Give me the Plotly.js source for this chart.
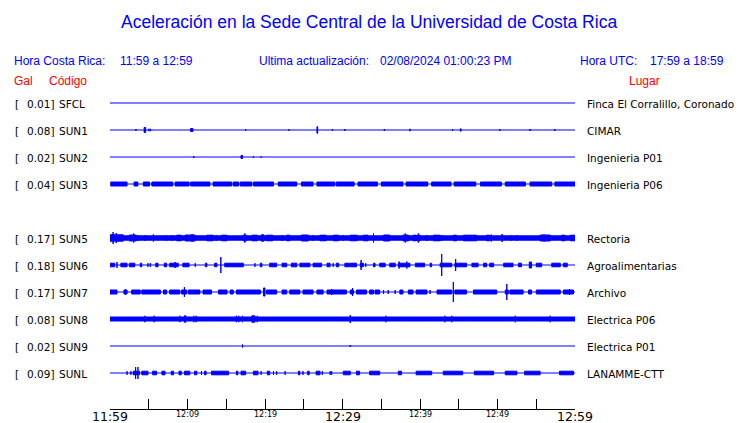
<!DOCTYPE html>
<html><head><meta charset="utf-8">
<script src="https://cdn.plot.ly/plotly-3.0.1.min.js"></script>
<style>body{margin:0;background:#fff}#chart{width:740px;height:423px}</style>
</head><body><div id="chart"></div>
<script>
// ---- data ----
const codes  = ['SFCL','SUN1','SUN2','SUN3','SUN5','SUN6','SUN7','SUN8','SUN9','SUNL'];
const gal    = ['0.01','0.08','0.02','0.04','0.17','0.18','0.17','0.08','0.02','0.09'];
const places = ['Finca El Corralillo, Coronado','CIMAR','Ingenieria P01','Ingenieria P06','Rectoria',
                'Agroalimentarias','Archivo','Electrica P06','Electrica P01','LANAMME-CTT'];
const rowSlot = [0,1,2,3,5,6,7,8,9,10];           // SUN4 has no trace (empty row)
const tickMinutes = [0,5,10,15,20,25,30,35,40,45,50,55,60];
const tickLabels  = ['11:59','','12:09','','12:19','','12:29','','12:39','','12:49','','12:59'];
const tickMajor   = [1,0,0,0,0,0,1,0,0,0,0,0,1];

// bursts: [start minute, end minute, half amplitude]
const burstsSFCL = [];
const burstsSUN1 = [[3.35,3.35,1],[4.4,4.6,2.5],[5.0,5.0,1.2],[5.2,5.2,1.2],[10.4,10.7,1.5],[17.5,17.5,1],
  [23.1,23.1,0.8],[26.7,26.8,3.3],[28.7,28.7,1],[30.3,30.3,1],[35.4,35.4,1],[38.7,38.7,1.2],[44.2,44.2,1],
  [45.2,45.3,1.2],[50.3,50.3,1],[54.2,54.2,1],[57.4,57.4,1]];
const burstsSUN2 = [[10.8,10.8,1],[16.9,17.1,1.5],[18.5,18.5,0.7],[19.5,19.5,0.7]];
const burstsSUN3 = [[0.1,2.2,2],[3.1,3.6,2],[4.3,5.1,2],[5.4,8.1,2],[8.4,10.2,2],[10.4,12.9,2],[13.3,15.7,2],[15.9,16.6,2],
  [16.8,18.3,2],[18.5,21.1,2],[21.7,24.1,2],[24.7,26.2,2],[26.7,29,2],[29.2,31.5,2],[32,34.5,2],[35,37.8,2],
  [38.2,41,2],[41.5,44,2],[44.4,47.2,2],[47.8,50.5,2],[51,53.6,2],[54.2,57,2],[57.4,60,2]];
const burstsSUN5 = [[0,60,2.2],[0,1.7,3.2],[0.4,0.4,6],[0.8,0.8,5],[2.5,3.4,3],[3.05,3.05,4.5],[3.7,3.7,2.8],[4.5,4.5,2.8],
  [5.6,5.6,3.5],[7.3,7.3,2.8],[8.0,8.0,2.8],[8.6,9.2,2.8],[9.7,11,3],[10.6,10.6,4],[12.5,13.3,2.8],[13.7,13.7,3],
  [14.4,15.1,2.8],[17.2,17.6,3],[17.4,17.4,4.5],[18.3,19,2.8],[19.5,19.9,3],[19.7,19.7,3.8],[20.2,21,2.8],[22.2,22.2,3],
  [22.8,23.2,2.8],[24.7,25.6,3],[26.2,26.2,2.8],[27.1,27.9,2.8],[28.8,29.5,2.8],[30.1,30.1,2.8],[31,31.9,2.8],
  [32.7,33.3,2.8],[34.0,34.0,4.5],[35.3,36.1,3],[37.8,38.5,3],[38.1,38.1,4.5],[39.1,39.5,2.8],[39.6,40,3],
  [39.8,39.8,4.5],[40.9,40.9,3],[41.7,42.6,2.8],[42.8,42.8,2.8],[44.3,44.7,2.8],[45.6,47.3,2.8],[46,46,2.8],
  [48.6,49,2.8],[49.2,49.2,3.5],[50.6,50.6,4],[51.8,51.8,2.8],[52.5,52.5,2.8],[55.5,56.8,3],[56,56,3.5],
  [58.3,58.7,2.8],[59.4,60,2.8]];
const burstsSUN6 = [[0,0.6,1.8],[0.9,0.9,3],[1.4,2.2,1.8],[2.5,3.2,1.8],[3.9,4.1,1.8],[4.9,4.9,1.8],[5.2,5.2,1.8],
  [5.9,6.2,1.8],[7,7.3,1.8],[7.7,8.8,1.8],[8.4,8.4,3],[9.4,10.2,1.8],[11,11,1.8],[12.3,12.5,1.8],[13.5,13.8,1.8],
  [14.3,14.3,8],[14.8,17.2,1.8],[18.7,18.7,1.8],[19.4,19.6,1.8],[20.6,21.5,1.8],[22.2,22.8,1.8],[23.4,24.1,1.8],
  [24.5,25.8,1.8],[26.2,27.3,1.8],[28,28.4,1.8],[28.8,28.8,1.8],[29.2,29.5,1.8],[30.3,30.9,1.8],[31,31.8,1.8],
  [32.3,32.7,1.8],[32.4,32.4,5],[33,33,1.8],[34,34.2,1.8],[34.8,35.5,1.8],[36.1,36.8,1.8],[37.2,38.7,1.8],
  [37.3,37.3,3.5],[38.3,38.3,3.5],[39.4,40.6,1.8],[41.3,41.5,1.8],[42.6,44.1,1.8],[42.8,42.8,11],[44.5,46,1.8],
  [44.6,44.6,6],[46.7,47.5,1.8],[48.2,48.6,1.8],[49,49.5,1.8],[50.8,52,1.8],[52.7,53.1,1.8],[54.1,54.4,3],
  [55,55.7,1.8],[57,58.1,1.8],[58.5,59,1.8]];
const burstsSUN7 = [[0,0.9,2],[1.8,2.2,2],[2,2,3],[2.8,3.9,2],[4.1,6.5,2],[6.9,7.3,2],[7.7,9,2],[9.2,9.9,2],[9.6,9.6,5],
  [10.1,11.6,2],[12,13.1,2],[14,15.1,2],[15.5,15.9,2],[16.3,19.4,2],[19.8,20,4],[20.2,21.5,2],[22.2,22.8,2],
  [23.2,24.5,2],[24.9,26.2,2],[26.7,27.5,2],[28,30.5,2],[28.6,28.6,3],[31,31.4,2],[31.3,31.3,4],[31.8,33.1,2],
  [33.5,34,2],[34.2,34.8,2],[35.3,35.3,2],[35.9,35.9,2],[36.8,36.8,2],[37.4,37.8,2],[38.5,39.1,2],[39.5,40.9,2],
  [41.3,41.3,2],[42.2,44.1,2],[44.3,44.3,10],[44.5,46,2],[46.9,49.9,2],[51,51.4,2],[51.2,51.2,8],[51.6,53.3,2],
  [54,54.4,2],[55,58.1,2],[58.5,59.8,2],[59.3,59.3,3]];
const burstsSUN8 = [[0,60,2.0],[4.5,4.5,3.2],[5.7,5.7,3.2],[9.0,9.0,3.2],[9.6,9.8,3.2],[10.8,10.8,3.2],[11.1,11.1,3.2],
  [16.3,16.3,3.2],[16.6,16.6,3.2],[17.1,17.1,3.2],[18.3,18.7,3.2],[19,19,3.2],[31,31,4],[35.6,35.6,3.2],
  [43.2,43.2,3.2],[44.1,44.1,3.2],[52.3,52.3,3.2],[56.8,56.8,3.2]];
const burstsSUN9 = [[17.1,17.1,1.5],[31,31,1]];
const burstsSUNL = [[2.2,2.2,1.8],[2.7,2.7,1.8],[3,3.8,1.8],[3.3,3.3,6],[3.6,3.6,6],[4.1,4.9,1.8],[5.5,6,1.8],
  [6.7,7.1,1.8],[7.9,8.2,1.8],[8.9,9.2,1.8],[9.6,10.3,1.8],[10.9,11.2,1.8],[11.8,11.8,1.8],[12.2,12.4,1.8],
  [13.1,15.3,1.8],[16.3,16.5,1.8],[16.9,17.5,1.8],[18.5,19.1,1.8],[19.5,19.5,1.8],[20.3,20.6,1.8],[21.1,21.1,1.8],
  [21.5,21.5,1.8],[22.6,22.6,1.8],[24.3,24.5,1.8],[24.9,24.9,1.8],[25.5,25.7,1.8],[26.6,27.1,1.8],[27.4,27.4,1.8],
  [28.4,28.4,1.8],[28.6,28.6,1.8],[30.1,31,1.8],[31.8,32.2,1.8],[33.5,34.8,1.8],[37.2,37.6,1.8],[39.5,41.5,1.8],
  [43,45.5,1.8],[47,49.5,1.8],[51,52.5,1.8],[53.5,55.5,1.8],[58,59.8,1.8]];
const bursts = {SFCL:burstsSFCL,SUN1:burstsSUN1,SUN2:burstsSUN2,SUN3:burstsSUN3,SUN5:burstsSUN5,
  SUN6:burstsSUN6,SUN7:burstsSUN7,SUN8:burstsSUN8,SUN9:burstsSUN9,SUNL:burstsSUNL};

// ---- layout helpers ----
const W=740,H=423, L=110, R=575, T=90, B=409, ROW=27;
const px = v => (v-L)/(R-L);
const py = v => (B-v)/(B-T);
const BLUE='#0000ff';

const traces=[];
codes.forEach((c,i)=>{
  const off=-ROW*rowSlot[i];
  traces.push({x:[tickMinutes[0],tickMinutes[tickMinutes.length-1]],y:[off,off],mode:'lines',
    line:{color:BLUE,width:1.2},hoverinfo:'skip',showlegend:false});
  const bx=[],by=[];
  bursts[c].forEach(([t0,t1,a])=>{bx.push(t0,t1,t1,t0,t0,null);by.push(off-a,off-a,off+a,off+a,off-a,null);});
  if(bx.length) traces.push({x:bx,y:by,mode:'lines',fill:'toself',fillcolor:BLUE,
    line:{color:BLUE,width:1},hoverinfo:'skip',showlegend:false});
});

const ann=[];
const A=(text,x,y,o)=>ann.push(Object.assign({text,x:px(x),y:py(y),xref:'paper',yref:'paper',
  showarrow:false,xanchor:'left',yanchor:'middle',borderpad:0,font:{family:'Liberation Sans, Arial',size:12,color:BLUE}},o||{}));
A('Aceleración en la Sede Central de la Universidad de Costa Rica',369,22,
  {xanchor:'center',font:{family:'Liberation Sans, Arial',size:17.5,color:BLUE}});
A('Hora Costa Rica:',13,61);
A('11:59 a 12:59',119,61);
A('Ultima actualización:',258,61);
A('02/08/2024 01:00:23 PM',379,61);
A('Hora UTC:',579,61);
A('17:59 a 18:59',649,61);
const RED='#ff0000';
A('Gal',13,81,{font:{family:'Liberation Sans, Arial',size:12,color:RED}});
A('Código',48,81,{font:{family:'Liberation Sans, Arial',size:12,color:RED}});
A('Lugar',628,81,{font:{family:'Liberation Sans, Arial',size:12,color:RED}});
const lf={family:'DejaVu Sans',size:10.5,color:'#000'};
codes.forEach((c,i)=>{
  const y=103+ROW*rowSlot[i];
  A('[',14,y+1,{font:lf});
  A(gal[i]+']',55,y+1,{font:lf,xanchor:'right'});
  A(c,58,y+1,{font:lf});
  A(places[i],586,y+1,{font:lf});
});
tickMinutes.forEach((m,i)=>{
  if(!tickLabels[i]) return;
  ann.push({text:tickLabels[i],x:m,xref:'x',y:py(tickMajor[i]?408:409),yref:'paper',showarrow:false,
    xanchor:'center',yanchor:'top',borderpad:0,
    font:{family:'DejaVu Sans',size:tickMajor[i]?12.5:8,color:'#000'}});
});

const layout={
  width:W,height:H,margin:{l:L,r:W-R,t:T,b:H-B},paper_bgcolor:'#fff',plot_bgcolor:'#fff',
  xaxis:{range:[tickMinutes[0],tickMinutes[tickMinutes.length-1]],tickvals:tickMinutes,showticklabels:false,
    ticks:'inside',ticklen:10,tickcolor:'#000',tickwidth:1,showline:true,linecolor:'#000',linewidth:1,
    showgrid:false,zeroline:false,fixedrange:true},
  yaxis:{range:[-(B-103),103-T],visible:false,fixedrange:true},
  annotations:ann,showlegend:false
};
Plotly.newPlot('chart',traces,layout,{staticPlot:true,displayModeBar:false});
</script></body></html>
